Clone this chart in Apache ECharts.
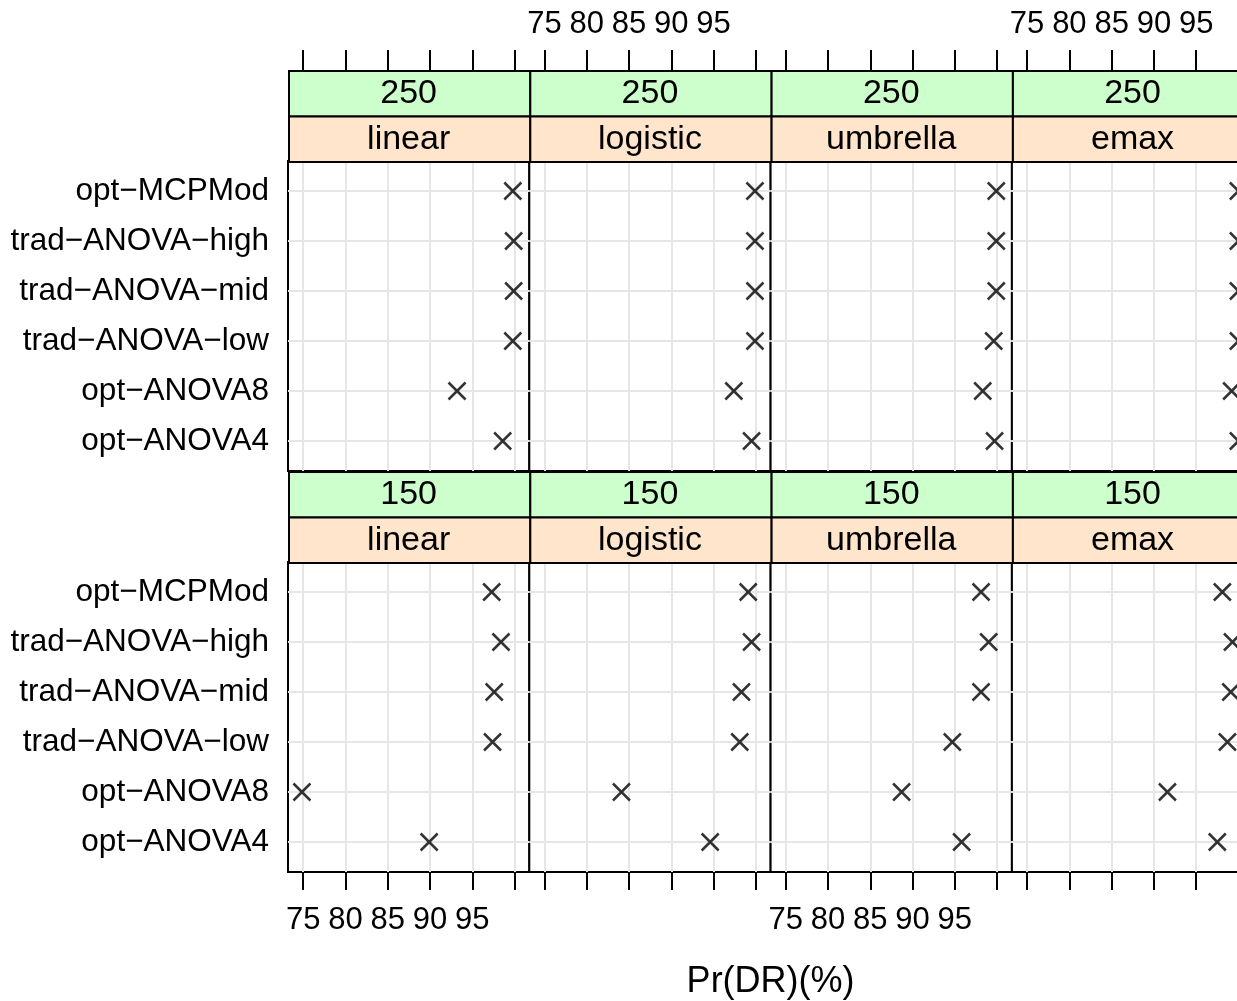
<!DOCTYPE html>
<html><head><meta charset="utf-8">
<script src="https://cdn.jsdelivr.net/npm/echarts@6/dist/echarts.min.js"></script>
<style>html,body{margin:0;padding:0;overflow:hidden;background:#fff}#c{width:1260px;height:1001px}</style>
</head><body><div id="c"></div>
<script>
// ---- data ----
const sizes = ['250', '150'];
const models = ['linear', 'logistic', 'umbrella', 'emax'];
const methods = ['opt−MCPMod', 'trad−ANOVA−high', 'trad−ANOVA−mid', 'trad−ANOVA−low', 'opt−ANOVA8', 'opt−ANOVA4'];
const xTicks = [75, 80, 85, 90, 95, 100];
const xTickLabels = [75, 80, 85, 90, 95];
const xTitle = 'Pr(DR)(%)';
// values follow the order of `methods`
const v250_linear   = [99.8, 99.9, 99.9, 99.8, 93.2, 98.6];
const v250_logistic = [99.9, 99.9, 99.9, 99.9, 97.4, 99.5];
const v250_umbrella = [99.9, 99.9, 99.9, 99.6, 98.3, 99.7];
const v250_emax     = [100.0, 100.0, 100.0, 100.0, 99.2, 100.0];
const v150_linear   = [97.3, 98.4, 97.6, 97.4, 74.85, 89.9];
const v150_logistic = [99.1, 99.5, 98.3, 98.1, 84.1, 94.6];
const v150_umbrella = [98.1, 99.0, 98.1, 94.7, 88.7, 95.8];
const v150_emax     = [98.1, 99.3, 99.1, 98.7, 91.6, 97.5];
const panelValues = [
  [v250_linear, v250_logistic, v250_umbrella, v250_emax],
  [v150_linear, v150_logistic, v150_umbrella, v150_emax]
];

// ---- layout ----
const FONT = '"Liberation Sans", Arial, sans-serif';
const L0 = 288, PW = 241.3, PH = 310, STRIP = 45.5;
const panelTops = [161, 562];
const grids = [], xAxes = [], yAxes = [], series = [], graphics = [];
let k = 0;
for (let r = 0; r < 2; r++) {
  for (let c = 0; c < 4; c++) {
    const left = L0 + c * PW, top = panelTops[r];
    grids.push({left: left, top: top, width: PW, height: PH, show: true,
      borderColor: '#000', borderWidth: 2, backgroundColor: '#fff'});
    const isTop = r === 0;
    const showLab = isTop ? (c % 2 === 1) : (c % 2 === 0);
    xAxes.push({
      type: 'value', gridIndex: k, min: 73.2, max: 101.75,
      position: isTop ? 'top' : 'bottom', offset: isTop ? 2 * STRIP : 0,
      axisLine: {show: false},
      axisTick: {show: true, length: isTop ? 20 : 18, customValues: xTicks,
        lineStyle: {color: '#000', width: 2}},
      axisLabel: {show: showLab, customValues: xTickLabels, color: '#000',
        fontSize: 31, fontFamily: FONT, margin: isTop ? 30 : 33},
      splitLine: {show: true, lineStyle: {color: '#e6e6e6', width: 2}}
    });
    yAxes.push({
      type: 'value', gridIndex: k, min: 0.4, max: 6.6, inverse: true,
      axisLine: {show: false},
      axisTick: {show: false, customValues: methods.map((m, i) => i + 1)},
      axisLabel: {show: c === 0, customValues: methods.map((m, i) => i + 1),
        formatter: v => methods[Math.round(v) - 1] || '',
        color: '#000', fontSize: 31.5, fontFamily: FONT, margin: 19},
      splitLine: {show: true, lineStyle: {color: '#e6e6e6', width: 2}}
    });
    series.push({
      type: 'scatter', xAxisIndex: k, yAxisIndex: k,
      symbol: 'path://M0,0L10,10M10,0L0,10', symbolSize: 17,
      itemStyle: {color: 'rgba(0,0,0,0)', borderColor: '#000', borderWidth: 2.5},
      data: panelValues[r][c].map((v, i) => [v, i + 1]),
      silent: true, z: 5
    });
    // strips
    const stripTexts = [sizes[r], models[c]];
    const stripCols = ['#ccffcc', '#ffe5cc'];
    for (let s = 0; s < 2; s++) {
      const y = top - 2 * STRIP + s * STRIP;
      graphics.push({type: 'rect', left: left, top: y, z: 20,
        shape: {width: PW, height: STRIP},
        style: {fill: stripCols[s], stroke: '#000', lineWidth: 2}});
      graphics.push({type: 'text', x: left + PW / 2, y: y + STRIP / 2 + 1, z: 21,
        style: {text: stripTexts[s], fill: '#000', font: '34px ' + FONT,
          textAlign: 'center', textVerticalAlign: 'middle'}});
    }
    k++;
  }
}
graphics.push({type: 'text', x: L0 + 2 * PW, y: 982, z: 21,
  style: {text: xTitle, fill: '#000', font: '36px ' + FONT,
    textAlign: 'center', textVerticalAlign: 'middle'}});

const chart = echarts.init(document.getElementById('c'), null, {renderer: 'canvas'});
chart.setOption({
  animation: false,
  backgroundColor: '#fff',
  grid: grids, xAxis: xAxes, yAxis: yAxes, series: series,
  graphic: {elements: graphics}
});
</script></body></html>
